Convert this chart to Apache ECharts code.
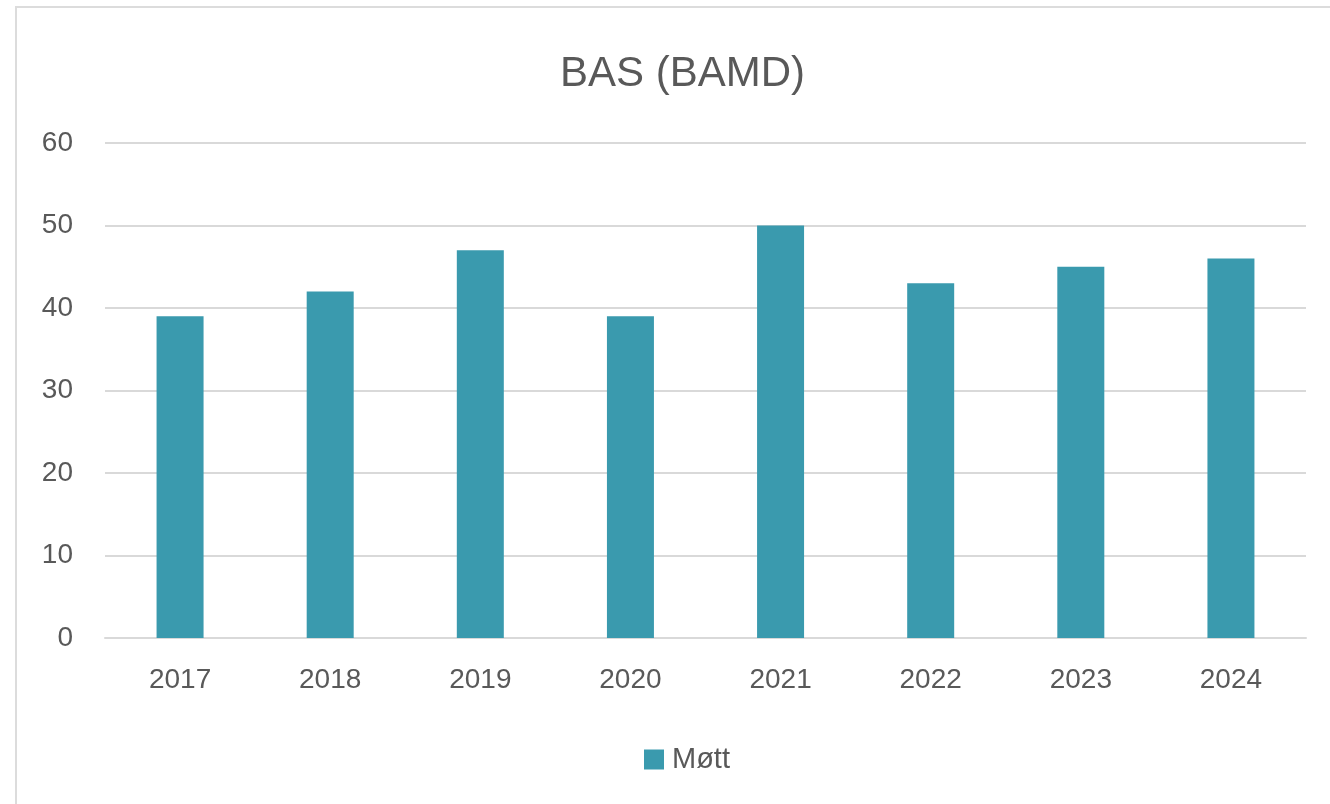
<!DOCTYPE html>
<html>
<head>
<meta charset="utf-8">
<script src="https://cdn.jsdelivr.net/npm/echarts@6/dist/echarts.min.js"></script>
<style>
  html, body { margin: 0; padding: 0; background: #fff; overflow: hidden; }
  #frame { position: absolute; left: 15px; top: 6px; width: 1400px; height: 900px; border: 2px solid #dcdcdc; }
  #chart { position: absolute; left: 0; top: 0; width: 1330px; height: 804px; }
</style>
</head>
<body>
<div id="frame"></div>
<div id="chart"></div>
<script>
// data
const years = ['2017', '2018', '2019', '2020', '2021', '2022', '2023', '2024'];
const mott = [39, 42, 47, 39, 50, 43, 45, 46];

const chart = echarts.init(document.getElementById('chart'));
const option = {
  backgroundColor: 'transparent',
  title: {
    text: 'BAS (BAMD)',
    left: 555,
    top: 48,
    textStyle: { fontSize: 42, fontWeight: 'normal', color: '#595959', fontFamily: 'Liberation Sans' }
  },
  legend: {
    data: ['Møtt'],
    top: 740,
    left: 639,
    itemWidth: 20,
    itemHeight: 20,
    icon: 'rect',
    textStyle: { fontSize: 29, color: '#595959', fontFamily: 'Liberation Sans', padding: [0, 0, 0, 3] }
  },
  grid: { left: 105, right: 24, top: 143, bottom: 166, containLabel: false },
  xAxis: {
    type: 'category',
    data: years,
    axisTick: { show: false },
    axisLine: { lineStyle: { color: '#d9d9d9', width: 2 } },
    axisLabel: { fontSize: 28, color: '#595959', margin: 28, fontFamily: 'Liberation Sans' }
  },
  yAxis: {
    type: 'value',
    min: 0,
    max: 60,
    interval: 10,
    axisLine: { show: false },
    axisTick: { show: false },
    splitLine: { lineStyle: { color: '#d9d9d9', width: 2 } },
    axisLabel: { fontSize: 28, color: '#595959', margin: 32, fontFamily: 'Liberation Sans' }
  },
  series: [
    {
      name: 'Møtt',
      type: 'bar',
      data: mott,
      barWidth: 47,
      itemStyle: { color: '#3a9aae' }
    }
  ]
};
chart.setOption(option);
</script>
</body>
</html>
